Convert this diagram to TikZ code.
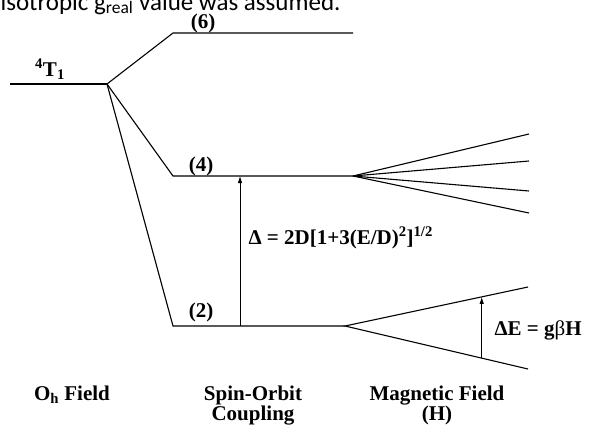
\documentclass[tikz,border=0pt]{standalone}
\usepackage{fontspec}
\setmainfont{Liberation Serif}
\newfontfamily\capfont{Carlito}
\usetikzlibrary{arrows.meta,calc}

\begin{document}
\begin{tikzpicture}[x=1pt,y=-1pt,line width=1.1pt,
    lbl/.style={font=\bfseries\fontsize{21}{20}\selectfont,inner sep=0pt},
    gap/.style={-{Latex[length=7pt,width=4.5pt]},line width=0.8pt}]
    \useasboundingbox (0,0) rectangle (589,426);
    % cut-off line of the page above
    \begin{scope}
        \clip (0,0) rectangle (589,426);
        \node[anchor=base west,inner sep=0pt,font=\capfont\fontsize{25}{27}\selectfont] (cap) at (0,10) {isotropic g\textsubscript{real} value was assumed.};
    \end{scope}
    % levels
    \coordinate (t0) at (10,84);
    \coordinate (t1) at (107,84);
    \coordinate (a6) at (173,33);
    \coordinate (b6) at (353,33);
    \coordinate (a4) at (173,176);
    \coordinate (b4) at (353,176);
    \coordinate (a2) at (173,326);
    \coordinate (b2) at (345,326);
    \draw (t0) -- (t1);
    \draw (t1) -- (a6) -- (b6);
    \draw (t1) -- (a4) -- (b4);
    \draw (t1) -- (a2) -- (b2);
    % magnetic splitting
    \foreach \y [count=\i] in {134,161,191,213} {
        \coordinate (z\i) at (529,\y);
        \draw (b4) -- (z\i);
    }
    \coordinate (zu) at (528,287);
    \coordinate (zd) at (528,369);
    \draw (zu) -- (b2) -- (zd);
    % gaps
    \coordinate (d0) at (240,326);
    \coordinate (d1) at (240,176);
    \draw[gap] (d0) -- (d1);
    \coordinate (e0) at ($(b2)!0.747!(zd)$);
    \coordinate (e1) at ($(b2)!0.747!(zu)$);
    \draw[gap] (e0) -- (e1);
    % labels
    \node[lbl] (t) at (50,69) {\textsuperscript{4}T\textsubscript{1}};
    \node[lbl] (l6) at (203,23) {(6)};
    \node[lbl] (l4) at (201,166) {(4)};
    \node[lbl] (l2) at (201,312) {(2)};
    \node[lbl,anchor=west] (dl) at (248,238) {Δ = 2D[1+3(E/D)\textsuperscript{2}]\textsuperscript{1/2}};
    \node[lbl,anchor=base west] (el) at (494,335) {ΔE = g\textmd{β}H};
    \node[lbl,anchor=base] (oh) at (72,400) {O\textsubscript{h} Field};
    \node[lbl,align=center,anchor=base] (so) at (253,420) {Spin-Orbit\\Coupling};
    \node[lbl,align=center,anchor=base] (mf) at (437,420) {Magnetic Field\\(H)};
\end{tikzpicture}
\end{document}
